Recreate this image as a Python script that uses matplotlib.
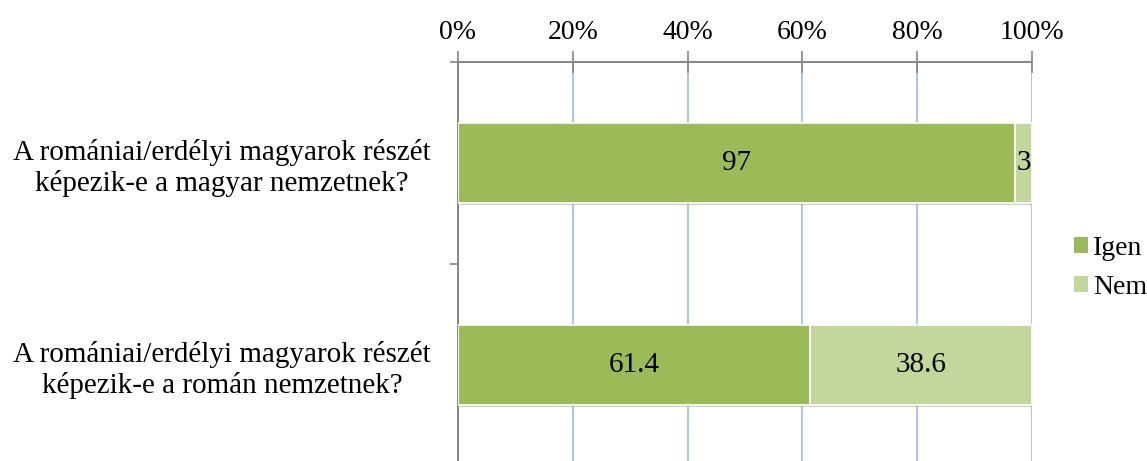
import numpy as np
import matplotlib
matplotlib.use('Agg')
import matplotlib.pyplot as plt
import matplotlib.patheffects as pe
from matplotlib.patches import Patch
from matplotlib.ticker import FixedLocator, FuncFormatter

plt.rcParams['font.family'] = ['Liberation Serif', 'DejaVu Serif']

# data
categories = ['A romániai/erdélyi magyarok részét\nképezik-e a magyar nemzetnek?',
              'A romániai/erdélyi magyarok részét\nképezik-e a román nemzetnek?']
igen = [97, 61.4]
nem = [3, 38.6]
series_names = ['Igen', 'Nem']
colors = ['#9BBB59', '#C3D69B']
xticks = [0, 20, 40, 60, 80, 100]

fig = plt.figure(figsize=(11.47, 4.61), dpi=100)
ax = fig.add_axes([458/1147, (461-466)/461, (1032-458)/1147, (466-62)/461])

shadow = [pe.SimplePatchShadow(offset=(1.5, -1.5), shadow_rgbFace='#999999', alpha=0.5), pe.Normal()]
ypos = np.arange(len(categories))
b1 = ax.barh(ypos, igen, height=0.4, color=colors[0], edgecolor='white', linewidth=1.2,
             zorder=3, path_effects=shadow)
b2 = ax.barh(ypos, nem, left=igen, height=0.4, color=colors[1], edgecolor='white', linewidth=1.2,
             zorder=3, path_effects=shadow)

for bars, vals in [(b1, igen), (b2, nem)]:
    for rect, v in zip(bars, vals):
        cx = rect.get_x() + rect.get_width() / 2
        cy = rect.get_y() + rect.get_height() / 2
        ax.text(cx, cy, '%g' % v, ha='center', va='center', fontsize=21, color='black', zorder=4)

ax.set_xlim(0, 100)
ax.set_ylim(1.5, -0.5)
ax.xaxis.tick_top()
ax.set_xticks(xticks)
ax.xaxis.set_major_formatter(FuncFormatter(lambda v, p: '%d%%' % v))
ax.tick_params(axis='x', which='major', direction='inout', length=16, width=1.2, color='#868686',
               labelsize=20, pad=4)
ax.grid(axis='x', color='#9DB9E8', linewidth=1.2, zorder=0)

ax.set_yticks(ypos)
ax.set_yticklabels(categories, ha='center', fontsize=21, linespacing=1.2)
ax.tick_params(axis='y', which='major', length=0, pad=170)
ax.yaxis.set_minor_locator(FixedLocator([-0.5, 0.5, 1.5]))
ax.tick_params(axis='y', which='minor', direction='out', length=6, width=1.2, color='#868686')

for side in ['right', 'bottom']:
    ax.spines[side].set_visible(False)
for side in ['left', 'top']:
    ax.spines[side].set_color('#868686')
    ax.spines[side].set_linewidth(1.4)
ax.set_axisbelow(True)

handles = [Patch(facecolor=c, edgecolor='none', label=n) for c, n in zip(colors, series_names)]
leg = fig.legend(handles=handles, loc='center left', bbox_to_anchor=(1074/1147, 1 - 268/461),
                 frameon=False, fontsize=20, handlelength=0.5, handleheight=0.5,
                 handletextpad=0.2, labelspacing=0.5, borderaxespad=0, borderpad=0)

fig.savefig('out.png', dpi=100)
